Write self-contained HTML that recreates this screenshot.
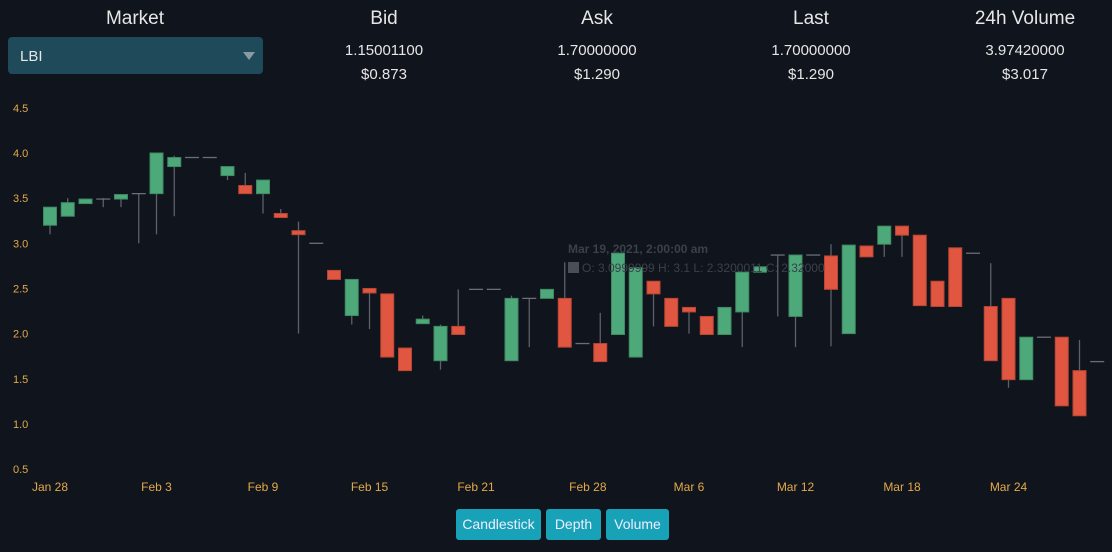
<!DOCTYPE html>
<html><head><meta charset="utf-8">
<style>
html,body{margin:0;padding:0;background:#10141c;width:1112px;height:552px;overflow:hidden;font-family:"Liberation Sans",sans-serif;color:#e6e6e6}
.hd{position:absolute;top:8px;font-size:19px;transform:translateX(-50%);white-space:nowrap}
.v{position:absolute;font-size:15px;transform:translateX(-50%);white-space:nowrap}
.dd{position:absolute;left:8px;top:37px;width:255px;height:37px;background:#1f4a5a;border-radius:4px}
.dd span{position:absolute;left:12px;top:11px;font-size:15px}
.dd i{position:absolute;right:8px;top:15px;width:0;height:0;border-left:6px solid transparent;border-right:6px solid transparent;border-top:8px solid #8a9aa2}
.btn{position:absolute;top:509px;height:31px;background:#17a2b8;border-radius:3px;color:#eef;font-size:14px;line-height:31px;text-align:center}
</style></head><body>
<div class="hd" style="left:135px">Market</div>
<div class="hd" style="left:384px">Bid</div>
<div class="hd" style="left:597px">Ask</div>
<div class="hd" style="left:811px">Last</div>
<div class="hd" style="left:1025px">24h Volume</div>
<div class="dd"><span>LBI</span><i></i></div>
<div class="v" style="left:384px;top:42px">1.15001100</div>
<div class="v" style="left:384px;top:66px">$0.873</div>
<div class="v" style="left:597px;top:42px">1.70000000</div>
<div class="v" style="left:597px;top:66px">$1.290</div>
<div class="v" style="left:811px;top:42px">1.70000000</div>
<div class="v" style="left:811px;top:66px">$1.290</div>
<div class="v" style="left:1025px;top:42px">3.97420000</div>
<div class="v" style="left:1025px;top:66px">$3.017</div>
<svg id="chart" width="1112" height="552" style="position:absolute;left:0;top:0"></svg>
<div class="btn" style="left:456px;width:85px">Candlestick</div>
<div class="btn" style="left:546px;width:55px">Depth</div>
<div class="btn" style="left:606px;width:63px">Volume</div>
<script>
const opens=[3.2,3.3,3.44,3.49,3.49,3.55,3.55,3.85,3.95,3.95,3.75,3.64,3.55,3.33,3.14,3.0,2.7,2.2,2.5,2.44,1.84,2.11,1.70,2.08,2.49,2.49,1.70,2.39,2.39,2.39,1.89,1.89,1.99,1.74,2.58,2.39,2.29,2.19,1.99,2.24,2.68,2.87,2.19,2.87,2.86,2.0,2.97,2.99,3.19,3.09,2.58,2.95,2.89,2.3,2.39,1.49,1.96,1.96,1.59,1.69];
const closes=[3.4,3.45,3.49,3.49,3.54,3.55,4.0,3.95,3.95,3.95,3.85,3.55,3.7,3.31,3.1,3.0,2.6,2.6,2.45,1.74,1.59,2.16,2.08,1.99,2.49,2.49,2.39,2.39,2.49,1.85,1.89,1.69,2.89,2.73,2.44,2.08,2.24,1.99,2.29,2.68,2.74,2.87,2.87,2.87,2.49,2.98,2.85,3.19,3.09,2.31,2.3,2.3,2.89,1.7,1.49,1.96,1.96,1.2,1.09,1.69];
const highs=[3.4,3.5,3.49,3.5,3.54,3.55,4.0,3.97,3.95,3.95,3.85,3.78,3.7,3.38,3.24,3.0,2.7,2.6,2.5,2.44,1.84,2.2,2.1,2.49,2.49,2.49,2.42,2.39,2.49,2.79,1.89,2.23,2.89,2.73,2.58,2.39,2.29,2.19,2.29,2.68,2.74,2.87,2.87,2.87,2.99,2.98,2.97,3.19,3.19,3.09,2.58,2.95,2.89,2.78,2.39,1.96,1.96,1.96,1.93,1.69];
const lows=[3.1,3.3,3.44,3.4,3.4,3.0,3.1,3.3,3.95,3.95,3.7,3.55,3.33,3.31,2.0,3.0,2.6,2.1,2.05,1.74,1.59,2.11,1.6,1.99,2.49,2.49,1.70,1.85,2.39,1.85,1.89,1.69,1.99,1.74,2.08,2.08,2.0,1.99,1.99,1.85,2.68,2.19,1.85,2.87,1.86,2.0,2.85,2.85,2.85,2.31,2.3,2.3,2.89,1.7,1.4,1.49,1.96,1.2,1.09,1.69];
const yTicks=["0.5","1.0","1.5","2.0","2.5","3.0","3.5","4.0","4.5"];
const xTicks=["Jan 28","Feb 3","Feb 9","Feb 15","Feb 21","Feb 28","Mar 6","Mar 12","Mar 18","Mar 24"];
const xTickIdx=[0,6,12,18,24,30.3,36,42,48,54];
const NS="http://www.w3.org/2000/svg",svg=document.getElementById('chart');
const y=v=>153+(4-v)*90.3, x=i=>50+i*17.75;
function mk(t,a){const e=document.createElementNS(NS,t);for(const k in a)e.setAttribute(k,a[k]);svg.appendChild(e);return e;}
yTicks.forEach(t=>{const e=mk('text',{x:13,y:y(+t)+4,fill:'#e3a94a','font-size':11});e.textContent=t;

});
xTicks.forEach((t,k)=>{const e=mk('text',{x:x(xTickIdx[k]),y:491,fill:'#e3a94a','font-size':12,'text-anchor':'middle'});e.textContent=t;

});
opens.forEach((o,i)=>{const c=closes[i],up=c>=o,col=up?'#4ea97a':'#e05640',flat=Math.abs(c-o)<0.005;
const cx=x(i);
const w=mk('line',{x1:cx,x2:cx,y1:y(highs[i]),y2:y(lows[i]),stroke:'#5c6068','stroke-width':1.3});


if(flat){const l=mk('line',{x1:cx-7,x2:cx+7,y1:y(o),y2:y(o),stroke:'#6a6e76','stroke-width':1.3});

}
else{const t=Math.min(y(o),y(c)),h=Math.max(Math.abs(y(o)-y(c)),4);
const r=mk('rect',{x:cx-6.5,y:t,width:13,height:h,fill:col,stroke:up?'#3f8a63':'#b84634','stroke-width':1});

}
});
const tt1=mk('text',{x:568,y:253,fill:'#3b404a','font-size':12,'font-weight':'bold'});tt1.textContent='Mar 19, 2021, 2:00:00 am';


const sq=mk('rect',{x:568,y:262,width:11,height:11,fill:'#4a4e56'});


const tt2=mk('text',{x:582,y:272,fill:'#3b404a','font-size':12});tt2.textContent='O: 3.0999999  H: 3.1  L: 2.3200011  C: 2.32000';


</script>
</body></html>
